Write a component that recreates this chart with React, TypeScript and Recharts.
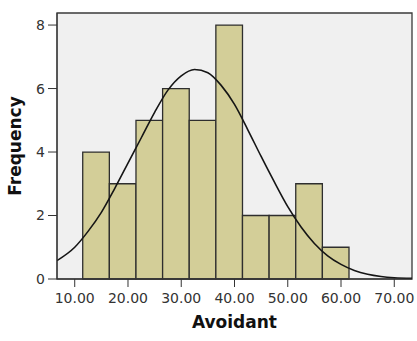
import {
  ComposedChart,
  Line,
  XAxis,
  YAxis,
  CartesianGrid,
  ReferenceArea,
} from "recharts";

// histogram bins (Avoidant score)
const binEdges = [11.5, 16.5, 21.5, 26.5, 31.5, 36.5, 41.5, 46.5, 51.5, 56.5, 61.5];
const binCounts = [4, 3, 5, 6, 5, 8, 2, 2, 3, 1];

// fitted normal curve
const curveX = [
  6.67, 10, 12.5, 15, 17.5, 20, 22.5, 25, 27.5, 30, 32.5, 35, 37.5, 40, 42.5, 45,
  47.5, 50, 52.5, 55, 57.5, 60, 62.5, 65, 67.5, 70, 73.33,
];
const curveY = [
  0.58, 1.0, 1.5, 2.1, 2.85, 3.65, 4.45, 5.25, 5.95, 6.4, 6.6, 6.5, 6.1, 5.5, 4.7, 3.86,
  3.05, 2.28, 1.64, 1.12, 0.73, 0.46, 0.27, 0.15, 0.08, 0.04, 0.02,
];

const xTicks = [10, 20, 30, 40, 50, 60, 70];
const yTicks = [0, 2, 4, 6, 8];

const X_MIN = 6.67;
const X_MAX = 73.33;
const Y_MAX = 8.38;

const curveData = curveX.map((x, i) => ({ x, y: curveY[i] }));

const tickStyle = { fontFamily: "DejaVu Sans", fontSize: 14, fill: "#333" };
const labelStyle = {
  fontFamily: "DejaVu Sans",
  fontSize: 17,
  fontWeight: "bold",
  fill: "#111",
  textAnchor: "middle" as const,
};

export default function App() {
  return (
    <div style={{ position: "absolute", left: 0, top: 0 }}>
      <ComposedChart
        width={417}
        height={341}
        data={curveData}
        margin={{ top: 13, right: 5, bottom: 0, left: 0 }}
      >
        <CartesianGrid fill="#f0f0f0" horizontal={false} vertical={false} />
        <XAxis
          type="number"
          dataKey="x"
          domain={[X_MIN, X_MAX]}
          ticks={xTicks}
          allowDataOverflow
          tickFormatter={(v: number) => v.toFixed(2)}
          tick={tickStyle}
          tickSize={8}
          tickMargin={6}
          height={62}
          stroke="#333"
          label={{ value: "Avoidant", position: "insideBottom", offset: 13, style: labelStyle }}
        />
        <YAxis
          type="number"
          domain={[0, Y_MAX]}
          ticks={yTicks}
          allowDataOverflow
          tick={tickStyle}
          tickSize={9}
          tickMargin={3}
          width={57}
          stroke="#333"
          label={{
            value: "Frequency",
            angle: -90,
            position: "insideLeft",
            offset: 15,
            style: labelStyle,
          }}
        />
        {binCounts.map((count, i) => (
          <ReferenceArea
            key={`bin-${i}`}
            x1={binEdges[i]}
            x2={binEdges[i + 1]}
            y1={0}
            y2={count}
            fill="#d3ce98"
            fillOpacity={1}
            stroke="#2e2e2e"
            strokeWidth={1.3}
          />
        ))}
        <ReferenceArea
          x1={X_MIN}
          x2={X_MAX}
          y1={0}
          y2={Y_MAX}
          fill="none"
          stroke="#3a3a3a"
          strokeWidth={1.3}
        />
        <Line
          type="monotone"
          dataKey="y"
          stroke="#151515"
          strokeWidth={1.6}
          dot={false}
          activeDot={false}
          isAnimationActive={false}
        />
      </ComposedChart>
    </div>
  );
}
